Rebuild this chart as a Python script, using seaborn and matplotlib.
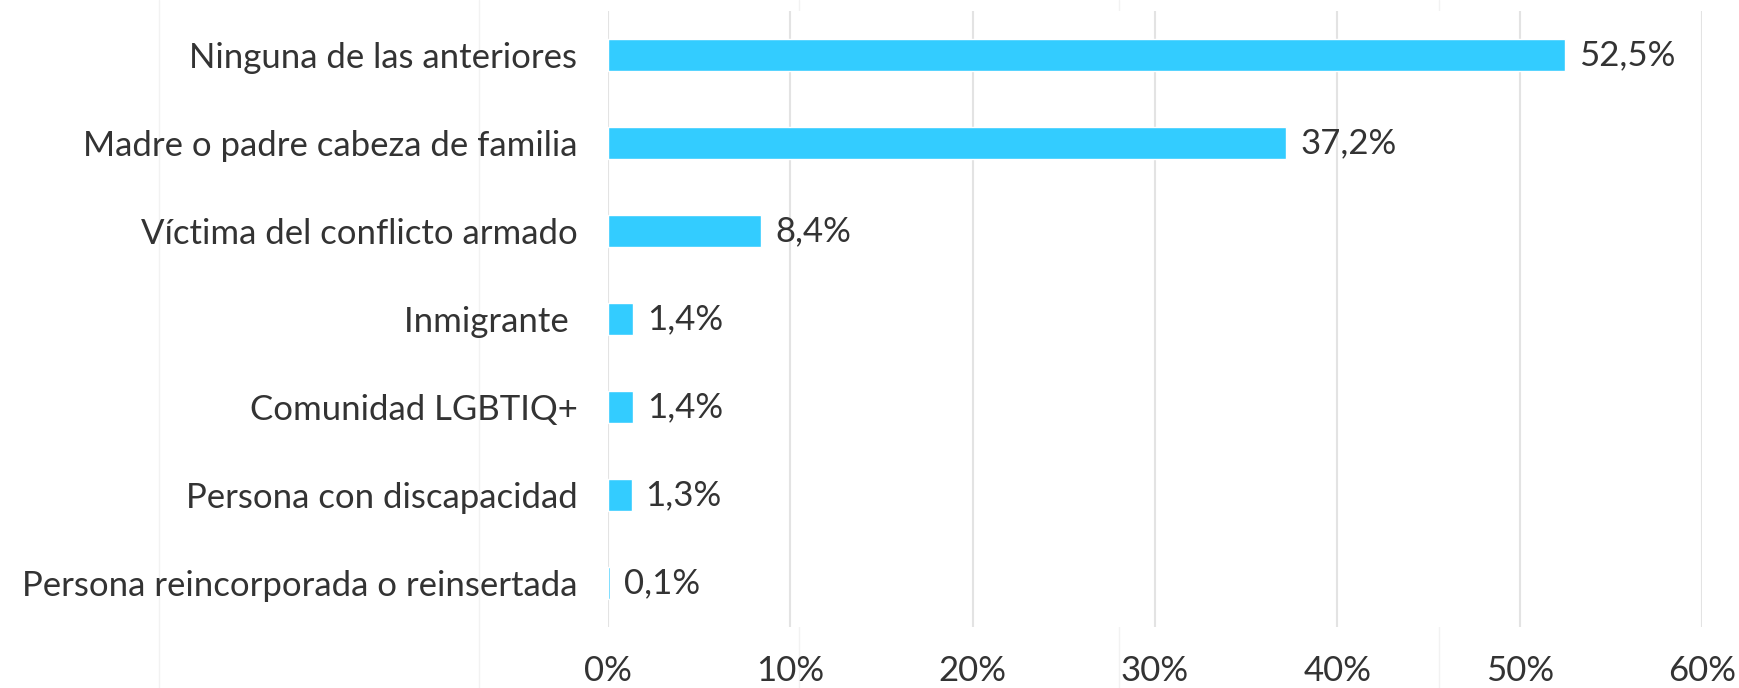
import matplotlib
matplotlib.use("Agg")
import matplotlib.pyplot as plt
from matplotlib.lines import Line2D
import seaborn as sns
import pandas as pd

categories = [
    "Ninguna de las anteriores",
    "Madre o padre cabeza de familia",
    "Víctima del conflicto armado",
    "Inmigrante ",
    "Comunidad LGBTIQ+",
    "Persona con discapacidad",
    "Persona reincorporada o reinsertada",
]
values = [52.5, 37.2, 8.4, 1.4, 1.4, 1.3, 0.1]
x_ticks = [0, 10, 20, 30, 40, 50, 60]
x_tick_labels = ["0%", "10%", "20%", "30%", "40%", "50%", "60%"]

df = pd.DataFrame({"categoria": categories, "valor": values})

sns.set_theme(style="white")
plt.rcParams["font.family"] = ["Lato", "DejaVu Sans"]

text_color = "#333333"
bar_color = "#33CCFF"
grid_color = "#E3E3E3"

fig = plt.figure(figsize=(17.39, 6.88), dpi=100)
ax = fig.add_axes([0.3496, 0.0887, 0.6291, 0.8953])

# faint page guides behind the chart
for xf in [159, 479, 799, 1119, 1439]:
    fig.add_artist(Line2D([xf / 1739, xf / 1739], [0, 1], transform=fig.transFigure,
                          color="#F2F2F2", lw=1.0, zorder=0))

sns.barplot(data=df, x="valor", y="categoria", color=bar_color, width=0.36,
            saturation=1, ax=ax, zorder=3)

ax.set_xlim(0, 60)
ax.set_ylim(6.5, -0.5)
ax.set_xticks(x_ticks)
ax.set_xticklabels(x_tick_labels)
ax.xaxis.grid(True, color=grid_color, lw=1.5, zorder=0)
ax.set_axisbelow(True)
for s in ax.spines.values():
    s.set_visible(False)
ax.set_xlabel("")
ax.set_ylabel("")
ax.tick_params(axis="x", length=0, pad=20, labelsize=25, labelcolor=text_color)
ax.tick_params(axis="y", length=0, pad=22, labelsize=25, labelcolor=text_color)

for i, v in enumerate(values):
    label = f"{v:.1f}%".replace(".", ",")
    ax.annotate(label, xy=(v, i), xytext=(10, 0), textcoords="offset points",
                va="center", ha="left", fontsize=25, color=text_color)

fig.savefig("out.png", dpi=100, facecolor="white")
